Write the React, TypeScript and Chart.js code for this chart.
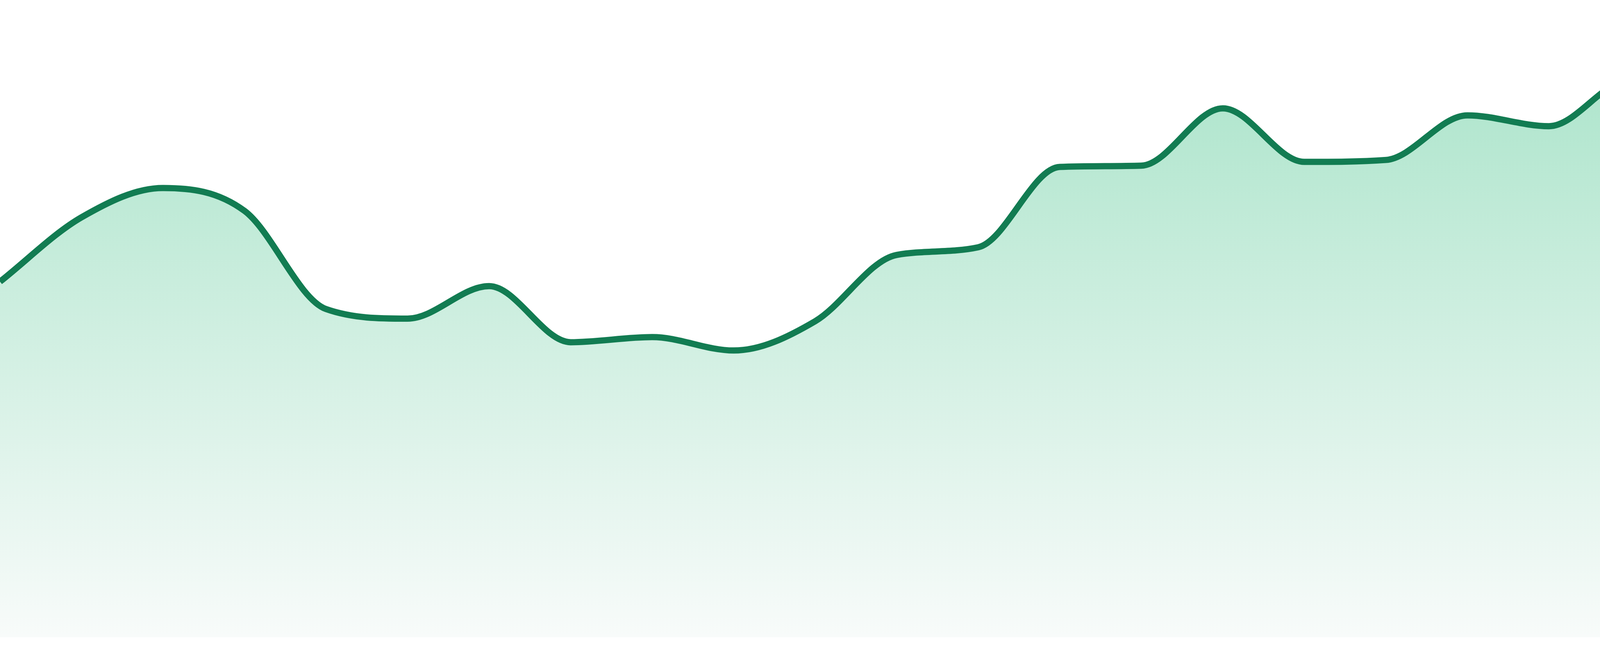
import React, { useEffect, useRef } from "react";
import { Chart, registerables } from "chart.js";

Chart.register(...registerables);

const categories = [
  "P01", "P02", "P03", "P04", "P05", "P06", "P07", "P08",
  "P09", "P10", "P11", "P12", "P13", "P14", "P15", "P16",
  "P17", "P18", "P19", "P20", "P21", "P22", "P23", "P24",
];

const seriesValues = [
  55.8, 65.9, 70.5, 66.9, 51.5, 50.0, 55.1, 46.3,
  47.1, 45.0, 49.6, 60.0, 61.2, 73.8, 74.0, 83.0,
  74.6, 74.9, 81.9, 80.2, 87.5, 87.3, 82.7, 81.1,
];

const yMin = 0;
const yMax = 100;

const LINE_COLOR = "#127c52";
const FILL_TOP = "rgb(164,226,198)";
const FILL_BOTTOM = "rgb(248,251,250)";

export default function App() {
  const canvasRef = useRef<HTMLCanvasElement | null>(null);

  useEffect(() => {
    const canvas = canvasRef.current;
    if (!canvas) return;
    const chart = new Chart(canvas, {
      type: "line",
      data: {
        labels: categories,
        datasets: [
          {
            data: seriesValues,
            borderColor: LINE_COLOR,
            borderWidth: 16,
            pointRadius: 0,
            pointHoverRadius: 0,
            cubicInterpolationMode: "monotone",
            fill: "start",
            backgroundColor: (ctx: any) => {
              const area = ctx.chart.chartArea;
              if (!area) return FILL_TOP;
              const g = ctx.chart.ctx.createLinearGradient(0, area.top, 0, area.bottom);
              g.addColorStop(0, FILL_TOP);
              g.addColorStop(1, FILL_BOTTOM);
              return g;
            },
          },
        ],
      },
      options: {
        animation: false,
        responsive: false,
        devicePixelRatio: 1,
        layout: { padding: 0 },
        plugins: {
          legend: { display: false },
          tooltip: { enabled: false },
        },
        scales: {
          x: { display: false, offset: false },
          y: { display: false, min: yMin, max: yMax },
        },
      },
    });
    return () => chart.destroy();
  }, []);

  return (
    <div style={{ position: "absolute", left: 0, top: 0, width: 4800, height: 1680, background: "#ffffff" }}>
      <canvas ref={canvasRef} width={4800} height={1632} style={{ display: "block", width: 4800, height: 1632 }} />
    </div>
  );
}
